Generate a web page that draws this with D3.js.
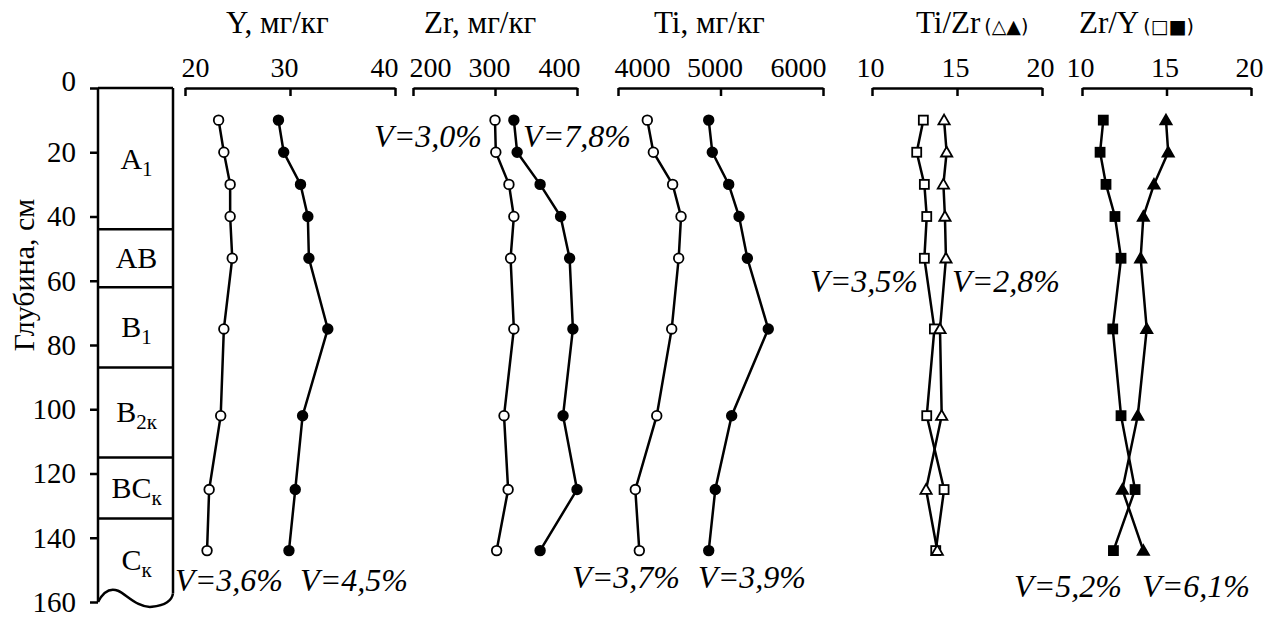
<!DOCTYPE html>
<html>
<head>
<meta charset="utf-8">
<script src="https://cdn.jsdelivr.net/npm/d3@7"></script>
<style>
body { margin: 0; background: #fff; }
text { font-family: "Liberation Serif", "Times New Roman", serif; fill: #000; }
</style>
</head>
<body>
<div id="chart"></div>
<script>
// sample depths, cm
var depths = [10, 20, 30, 40, 53, 75, 102, 125, 144];
var depthTicks = [0, 20, 40, 60, 80, 100, 120, 140, 160];

// soil horizons (top / bottom, cm)
var horizonNames = ["A", "AB", "B", "B", "BC", "C"];
var horizonSubs = ["1", "", "1", "2к", "к", "к"];
var horizonTops = [0, 44, 62, 87, 115, 134];
var horizonBottoms = [44, 62, 87, 115, 134, 160];

// concentrations, open = first profile, filled = second
var yOpen = [23.2, 23.7, 24.3, 24.3, 24.5, 23.7, 23.4, 22.3, 22.1];
var yFilled = [28.9, 29.4, 31.0, 31.7, 31.8, 33.6, 31.2, 30.5, 29.9];
var zrOpen = [300, 301, 317, 323, 319, 323, 311, 316, 302];
var zrFilled = [323, 327, 355, 380, 391, 395, 383, 400, 355];
var tiOpen = [4286, 4345, 4533, 4615, 4592, 4524, 4378, 4169, 4208];
var tiFilled = [4885, 4920, 5080, 5181, 5262, 5466, 5109, 4949, 4885];

// ratios
var tiZrOpen = [14.24, 14.39, 14.20, 14.29, 14.35, 14.00, 14.10, 13.18, 13.84];
var zrYOpen = [13.02, 12.63, 13.08, 13.22, 13.08, 13.67, 13.22, 14.24, 13.75];
var tiZrFilled = [14.97, 15.10, 14.26, 13.63, 13.47, 13.83, 13.30, 12.39, 13.63];
var zrYFilled = [11.26, 11.07, 11.42, 11.95, 12.31, 11.82, 12.31, 13.14, 11.86];

// tick labels
var yTicks = [20, 30, 40];
var zrTicks = [200, 300, 400];
var tiTicks = [4000, 5000, 6000];
var ratioTicks = [10, 15, 20];

// variation coefficients
var vLabels = ["V=3,6%", "V=4,5%", "V=3,0%", "V=7,8%", "V=3,7%", "V=3,9%",
               "V=3,5%", "V=2,8%", "V=5,2%", "V=6,1%"];
var vPos = [[229, 591], [354, 591], [428, 147], [577, 147], [626, 588], [752, 588],
            [864, 292], [1006, 292], [1068, 597], [1196, 597]];

var width = 1277, height = 619;
var svg = d3.select("#chart").append("svg")
    .attr("width", width)
    .attr("height", height);

var y = d3.scaleLinear().domain([0, 160]).range([88, 602]);
var colL = 98, colR = 173;

// soil column
var col = svg.append("g").attr("fill", "none").attr("stroke", "#000").attr("stroke-width", 2.5);
col.append("line").attr("x1", colL).attr("x2", colL).attr("y1", y(0)).attr("y2", y(160));
col.append("line").attr("x1", colR).attr("x2", colR).attr("y1", y(0)).attr("y2", y(157.3));
col.append("line").attr("x1", colL).attr("x2", colR).attr("y1", y(0)).attr("y2", y(0));
col.selectAll(".hb")
    .data(horizonBottoms.slice(0, -1))
    .join("line")
        .attr("x1", colL).attr("x2", colR)
        .attr("y1", d => y(d)).attr("y2", d => y(d));
// wavy bottom
col.append("path")
    .attr("d", "M" + colL + "," + y(160) +
        " C" + (colL + 5) + "," + y(157) + " " + (colL + 12) + "," + y(155.5) + " " + (colL + 20) + "," + y(156.5) +
        " S" + (colL + 40) + "," + y(162) + " " + (colL + 54) + "," + y(161.5) +
        " S" + (colR - 1) + "," + y(159.5) + " " + colR + "," + y(157.3));

var hl = svg.append("g").attr("text-anchor", "middle")
    .selectAll("text")
    .data(horizonNames)
    .join("text")
        .attr("x", (colL + colR) / 2 + 1)
        .attr("y", (d, i) => y((horizonTops[i] + horizonBottoms[i]) / 2) + 10)
        .style("font-size", "30px");
hl.append("tspan").text(d => d);
hl.append("tspan")
    .attr("dy", 7)
    .style("font-size", "21px")
    .text((d, i) => horizonSubs[i]);

// depth axis
var depthAxis = svg.append("g")
    .attr("transform", "translate(" + colL + ",0)")
    .call(d3.axisLeft(y).tickValues(depthTicks).tickSize(8).tickPadding(14).tickSizeOuter(0));
depthAxis.select(".domain").remove();
depthAxis.selectAll(".tick line").attr("stroke", "#000").attr("stroke-width", 2.5);
depthAxis.selectAll(".tick text")
    .style("font-size", "29px")
    .attr("y", d => d === 0 ? -7 : 0);

svg.append("text")
    .attr("transform", "translate(34,275) rotate(-90)")
    .attr("text-anchor", "middle")
    .style("font-size", "30px")
    .text("Глубина, см");

var panels = [
    {title: "Y, мг/кг", legend: "", titleX: 226, domain: [20, 40], range: [185, 395], ticks: yTicks, edge: true,
     series: [{v: yOpen, sym: "circle", fill: false}, {v: yFilled, sym: "circle", fill: true}]},
    {title: "Zr, мг/кг", legend: "", titleX: 424, domain: [200, 400], range: [413, 577], ticks: zrTicks, edge: true,
     series: [{v: zrOpen, sym: "circle", fill: false}, {v: zrFilled, sym: "circle", fill: true}]},
    {title: "Ti, мг/кг", legend: "", titleX: 654, domain: [4000, 6000], range: [618, 823], ticks: tiTicks, edge: true,
     series: [{v: tiOpen, sym: "circle", fill: false}, {v: tiFilled, sym: "circle", fill: true}]},
    {title: "Ti/Zr", legend: "(△▲)", titleX: 916, domain: [10, 20], range: [872, 1042], ticks: ratioTicks, edge: false,
     series: [{v: zrYOpen, sym: "square", fill: false}, {v: tiZrOpen, sym: "triangle", fill: false}]},
    {title: "Zr/Y", legend: "(□■)", titleX: 1079, domain: [10, 20], range: [1082, 1251], ticks: ratioTicks, edge: false,
     series: [{v: zrYFilled, sym: "square", fill: true}, {v: tiZrFilled, sym: "triangle", fill: true}]}
];

panels.forEach(function(p) {
    var x = d3.scaleLinear().domain(p.domain).range(p.range);

    var axisG = svg.append("g")
        .attr("transform", "translate(0," + y(0) + ")")
        .call(d3.axisBottom(x).tickValues(p.ticks).tickFormat(d3.format("d")).tickSize(8).tickSizeOuter(0));
    axisG.select(".domain").attr("stroke", "#000").attr("stroke-width", 2.5);
    axisG.selectAll(".tick line").attr("stroke", "#000").attr("stroke-width", 2.5);
    var n = p.ticks.length;
    axisG.selectAll(".tick text")
        .attr("y", -11)
        .attr("dy", 0)
        .style("font-size", "28px")
        .attr("text-anchor", (d, i) => !p.edge ? "middle" : i === 0 ? "start" : i === n - 1 ? "end" : "middle")
        .attr("dx", (d, i) => !p.edge ? -2 : i === 0 ? -4 : i === n - 1 ? 3 : -6);

    var t = svg.append("text")
        .attr("x", p.titleX)
        .attr("y", 33)
        .style("font-size", "31px");
    t.append("tspan").text(p.title);
    if (p.legend) {
        t.append("tspan")
            .attr("dx", 4)
            .style("font-size", "19px")
            .style("font-family", "DejaVu Sans")
            .text(p.legend);
    }

    var line = d3.line()
        .x(d => x(d))
        .y((d, i) => y(depths[i]));

    p.series.forEach(function(s) {
        svg.append("path")
            .datum(s.v)
            .attr("fill", "none")
            .attr("stroke", "#000")
            .attr("stroke-width", 2.5)
            .attr("d", line);
    });

    p.series.forEach(function(s) {
        var g = svg.append("g")
            .attr("fill", s.fill ? "#000" : "#fff")
            .attr("stroke", "#000")
            .attr("stroke-width", 1.8);
        if (s.sym === "circle") {
            g.selectAll("circle").data(s.v).join("circle")
                .attr("cx", d => x(d))
                .attr("cy", (d, i) => y(depths[i]))
                .attr("r", 4.8);
        } else if (s.sym === "square") {
            g.selectAll("rect").data(s.v).join("rect")
                .attr("x", d => x(d) - 4.5)
                .attr("y", (d, i) => y(depths[i]) - 4.5)
                .attr("width", 9)
                .attr("height", 9);
        } else {
            g.selectAll("path").data(s.v).join("path")
                .attr("transform", (d, i) => "translate(" + x(d) + "," + (y(depths[i]) + 1) + ")")
                .attr("d", d3.symbol(d3.symbolTriangle).size(55));
        }
    });
});

svg.append("g")
    .attr("text-anchor", "middle")
    .selectAll("text")
    .data(vLabels)
    .join("text")
        .attr("x", (d, i) => vPos[i][0])
        .attr("y", (d, i) => vPos[i][1])
        .style("font-size", "32px")
        .style("font-style", "italic")
        .text(d => d);
</script>
</body>
</html>
